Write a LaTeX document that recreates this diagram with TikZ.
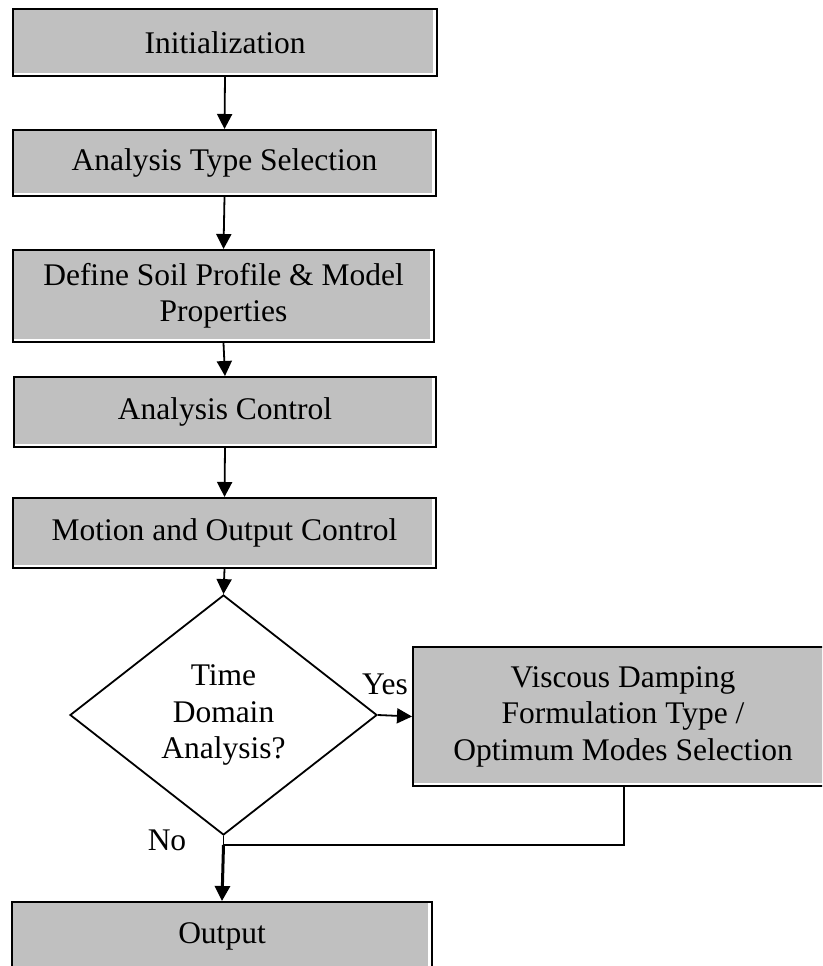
\documentclass[tikz,border=0pt]{standalone}
\usepackage{fontspec}
\setmainfont{Liberation Serif}
\usetikzlibrary{shapes.geometric,arrows.meta}
\definecolor{boxgray}{HTML}{C0C0C0}
\tikzset{
  stepbox/.style={draw=black, line width=2pt, fill=white, rectangle, inner sep=0pt,
    align=center, font=\fontsize{31.5}{36.5}\selectfont,
    path picture={\fill[boxgray] (path picture bounding box.north west)
      rectangle ([xshift=-4pt,yshift=3.5pt]path picture bounding box.south east);}},
  decision/.style={draw=black, line width=1.8pt, diamond, inner sep=0pt},
  txt/.style={align=center, inner sep=0pt, font=\fontsize{31.5}{36.5}\selectfont},
  flow/.style={draw=black, line width=1.8pt, -{Triangle[length=15pt,width=15pt]}},
  link/.style={draw=black, line width=1.8pt},
}
\begin{document}
\begin{tikzpicture}[x=1pt,y=-1pt]
\clip (0,0) rectangle (822,966);
\fill[white] (0,0) rectangle (822,966);

% main chain of process boxes
\node[stepbox, minimum width=424pt, minimum height=67pt] (init) at (225,42.5) {Initialization};
\node[stepbox, minimum width=423pt, minimum height=66pt] (ats) at (224.5,163) {Analysis Type Selection};
\node[stepbox, minimum width=421pt, minimum height=92pt] (soil) at (223.5,296) {Define Soil Profile \& Model\\Properties};
\node[stepbox, minimum width=422pt, minimum height=70pt] (actrl) at (225,412) {Analysis Control};
\node[stepbox, minimum width=423pt, minimum height=70pt] (motion) at (224.5,533) {Motion and Output Control};

% decision
\node[decision, minimum width=307pt, minimum height=240pt] (dec) at (223.5,715) {};
\node[txt] (dectext) at (dec.center) {Time\\Domain\\Analysis?};

% damping branch
\node[stepbox, minimum width=420pt, minimum height=139pt] (visc) at (623,716.5) {Viscous Damping\\Formulation Type /\\Optimum Modes Selection};

% final box
\node[stepbox, minimum width=420pt, minimum height=68pt] (out) at (222,936) {Output};

% branch labels
\node[txt] (yes) at (385,684) {Yes};
\node[txt] (no) at (167,840) {No};

% connectors
\draw[flow] (init.south) -- (ats.north);
\draw[flow] (ats.south) -- (soil.north);
\draw[flow] (soil.south) -- (actrl.north);
\draw[flow] (actrl.south) -- (motion.north);
\draw[flow] (motion.south) -- (dec.north);
\draw[flow] (dec.east) -- (visc.west);
\coordinate (join) at ([yshift=-9pt]dec.south);
\draw[link] ([xshift=1pt]visc.south) |- (join);
\draw[link] (dec.south) -- (join);
\draw[draw=black, line width=3pt, -{Triangle[length=15pt,width=15pt]}] (join) -- (out.north);
\end{tikzpicture}
\end{document}
